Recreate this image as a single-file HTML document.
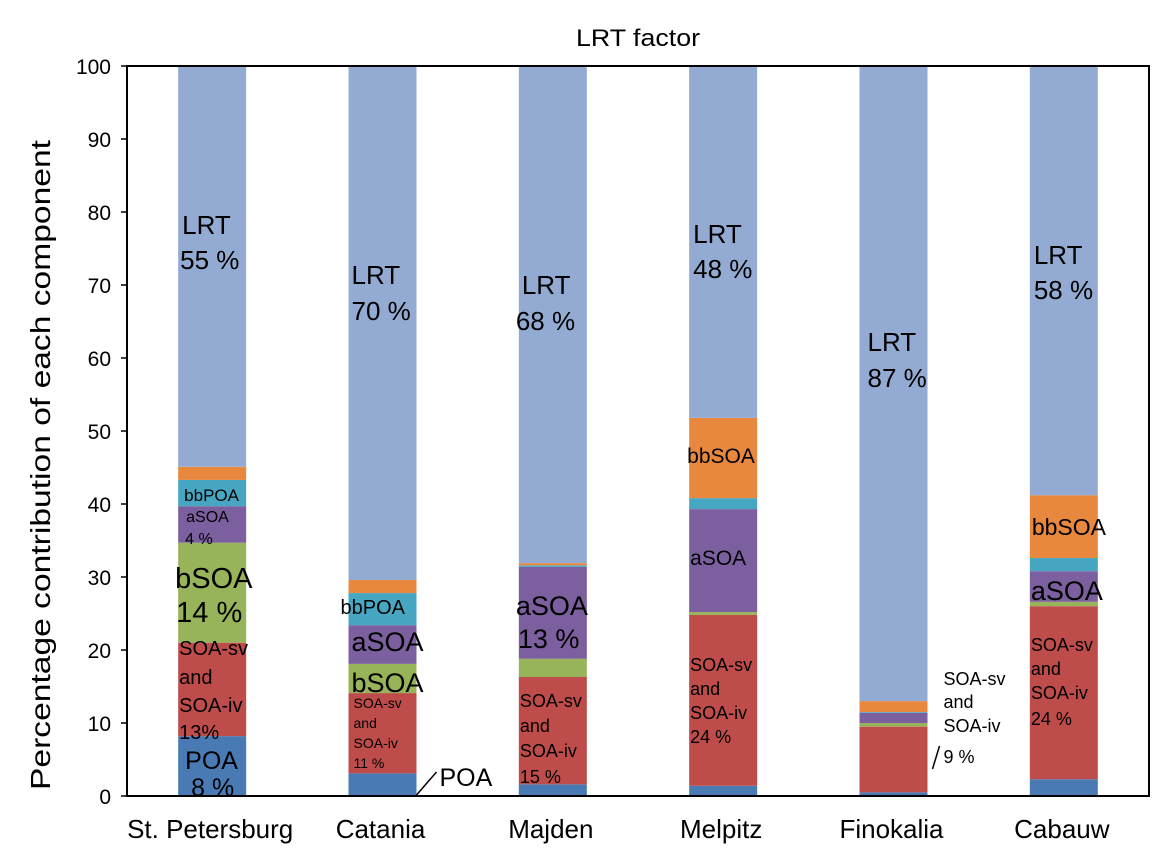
<!DOCTYPE html>
<html><head><meta charset="utf-8"><style>
html,body{margin:0;padding:0;background:#fff;}
svg{display:block;font-family:"Liberation Sans",sans-serif;}
</style></head><body>
<svg id="chart" width="1169" height="862" viewBox="0 0 1169 862" xmlns="http://www.w3.org/2000/svg">
<text x="638" y="46" font-size="24" text-anchor="middle" textLength="124" lengthAdjust="spacingAndGlyphs">LRT factor</text>
<text transform="translate(50,465) rotate(-90)" font-size="28" text-anchor="middle" textLength="650" lengthAdjust="spacingAndGlyphs">Percentage contribution of each component</text>
<g id="bars"></g>
<g id="axes"></g>
<g id="labels"></g>
</svg>
<script>
const categories = ["St. Petersburg","Catania","Majden","Melpitz","Finokalia","Cabauw"];
const seriesNames = ["POA","SOA-sv and SOA-iv","bSOA","aSOA","bbPOA","bbSOA","LRT"];
const POA   = [8.2, 3.1, 1.6, 1.4, 0.5, 2.3];
const SOA   = [12.8, 11.0, 14.7, 23.4, 9.0, 23.7];
const bSOA  = [13.7, 4.0, 2.5, 0.4, 0.5, 0.6];
const aSOA  = [5.0, 5.3, 12.6, 14.1, 1.4, 4.2];
const bbPOA = [3.6, 4.4, 0.2, 1.5, 0.1, 1.8];
const bbSOA = [1.8, 1.8, 0.3, 11.0, 1.5, 8.6];
const LRT   = [54.9, 70.4, 68.1, 48.2, 87.0, 58.8];
const yTicks = [0,10,20,30,40,50,60,70,80,90,100];

const colors = ["#4a7ab4","#bd4c4a","#98b45a","#7c5f9e","#47a7c2","#e8883f","#93abd3"];
const series = [POA,SOA,bSOA,aSOA,bbPOA,bbSOA,LRT];
const NS="http://www.w3.org/2000/svg";
const L=127,R=1149,T=66,B=796;
const band=(R-L)/categories.length, bw=68;
const y=v=>B-(v/100)*(B-T);
const xc=i=>L+band*(i+0.5);
function mk(tag,attrs,parent){const e=document.createElementNS(NS,tag);for(const k in attrs)e.setAttribute(k,attrs[k]);parent.appendChild(e);return e;}
const gb=document.getElementById('bars');
categories.forEach((c,i)=>{
  let cum=0;
  series.forEach((s,k)=>{
    const v=s[i];
    const r=mk('rect',{x:xc(i)-bw/2,y:y(cum+v),width:bw,height:y(cum)-y(cum+v),fill:colors[k]},gb);
    
    
    cum+=v;
  });
});
const ga=document.getElementById('axes');
const frame=mk('rect',{x:L,y:T,width:R-L,height:B-T,fill:'none',stroke:'#000','stroke-width':2},ga);


yTicks.forEach(t=>{
  const ln=mk('line',{x1:L-6,x2:L,y1:y(t),y2:y(t),stroke:'#000','stroke-width':1.5},ga);
  
  
  const tx=mk('text',{x:L-16,y:y(t)+8,'font-size':21,'text-anchor':'end'},ga);
  tx.textContent=t;
  
  
});
categories.forEach((c,i)=>{
  const tx=mk('text',{x:xc(i)-2,y:838,'font-size':26,'text-anchor':'middle'},ga);
  tx.textContent=c;
  
  
});
// annotations: [category index, x offset from bar left, baseline y, size, text]
const ann=[
 [0,4,234,26,"LRT"],[0,2,269,26,"55 %"],
 [0,6,501,17,"bbPOA"],[0,8,522,16,"aSOA"],[0,7,544,16,"4 %"],
 [0,-3,588,29,"bSOA"],[0,-2,622,29,"14 %"],
 [0,1,655,20,"SOA-sv"],[0,1,684,20,"and"],[0,1,712,20,"SOA-iv"],[0,1,739,20,"13%"],
 [0,7,769,25,"POA"],[0,13,796,25,"8 %"],
 [1,3,284,26,"LRT"],[1,3,320,26,"70 %"],
 [1,-8,614,20,"bbPOA"],[1,3,651,27,"aSOA"],[1,3,692,27,"bSOA"],
 [1,5,708,14,"SOA-sv"],[1,5,728,14,"and"],[1,5,748,14,"SOA-iv"],[1,5,768,14,"11 %"],
 [1,91,786,25,"POA"],
 [2,3,294,26,"LRT"],[2,-3,330,26,"68 %"],
 [2,-3,615,27,"aSOA"],[2,-1,648,27,"13 %"],
 [2,1,707,18,"SOA-sv"],[2,1,732,18,"and"],[2,1,757,18,"SOA-iv"],[2,1,783,18,"15 %"],
 [3,4,243,26,"LRT"],[3,4,278,26,"48 %"],
 [3,-2,463,21,"bbSOA"],[3,1,565,21,"aSOA"],
 [3,1,671,18,"SOA-sv"],[3,1,695,18,"and"],[3,1,719,18,"SOA-iv"],[3,1,743,18,"24  %"],
 [4,8,351,26,"LRT"],[4,8,387,26,"87 %"],
 [4,84,685,18,"SOA-sv"],[4,84,708,18,"and"],[4,84,732,18,"SOA-iv"],[4,84,763,18,"9 %"],
 [5,4,264,26,"LRT"],[5,4,299,26,"58 %"],
 [5,2,535,23,"bbSOA"],[5,1,600,27,"aSOA"],
 [5,1,651,18,"SOA-sv"],[5,1,675,18,"and"],[5,1,699,18,"SOA-iv"],[5,1,725,18,"24  %"]
];
const gl=document.getElementById('labels');
ann.forEach(a=>{
  const tx=mk('text',{x:xc(a[0])-bw/2+a[1],y:a[2],'font-size':a[3]},gl);
  tx.textContent=a[4];
  
  
});
const l1=mk('line',{x1:xc(1)+bw/2,y1:795,x2:xc(1)+bw/2+20,y2:772,stroke:'#000','stroke-width':1.5},gl);


const l2=mk('line',{x1:xc(4)+bw/2+5,y1:769,x2:xc(4)+bw/2+12,y2:746,stroke:'#000','stroke-width':1.5},gl);


</script>
</body></html>
